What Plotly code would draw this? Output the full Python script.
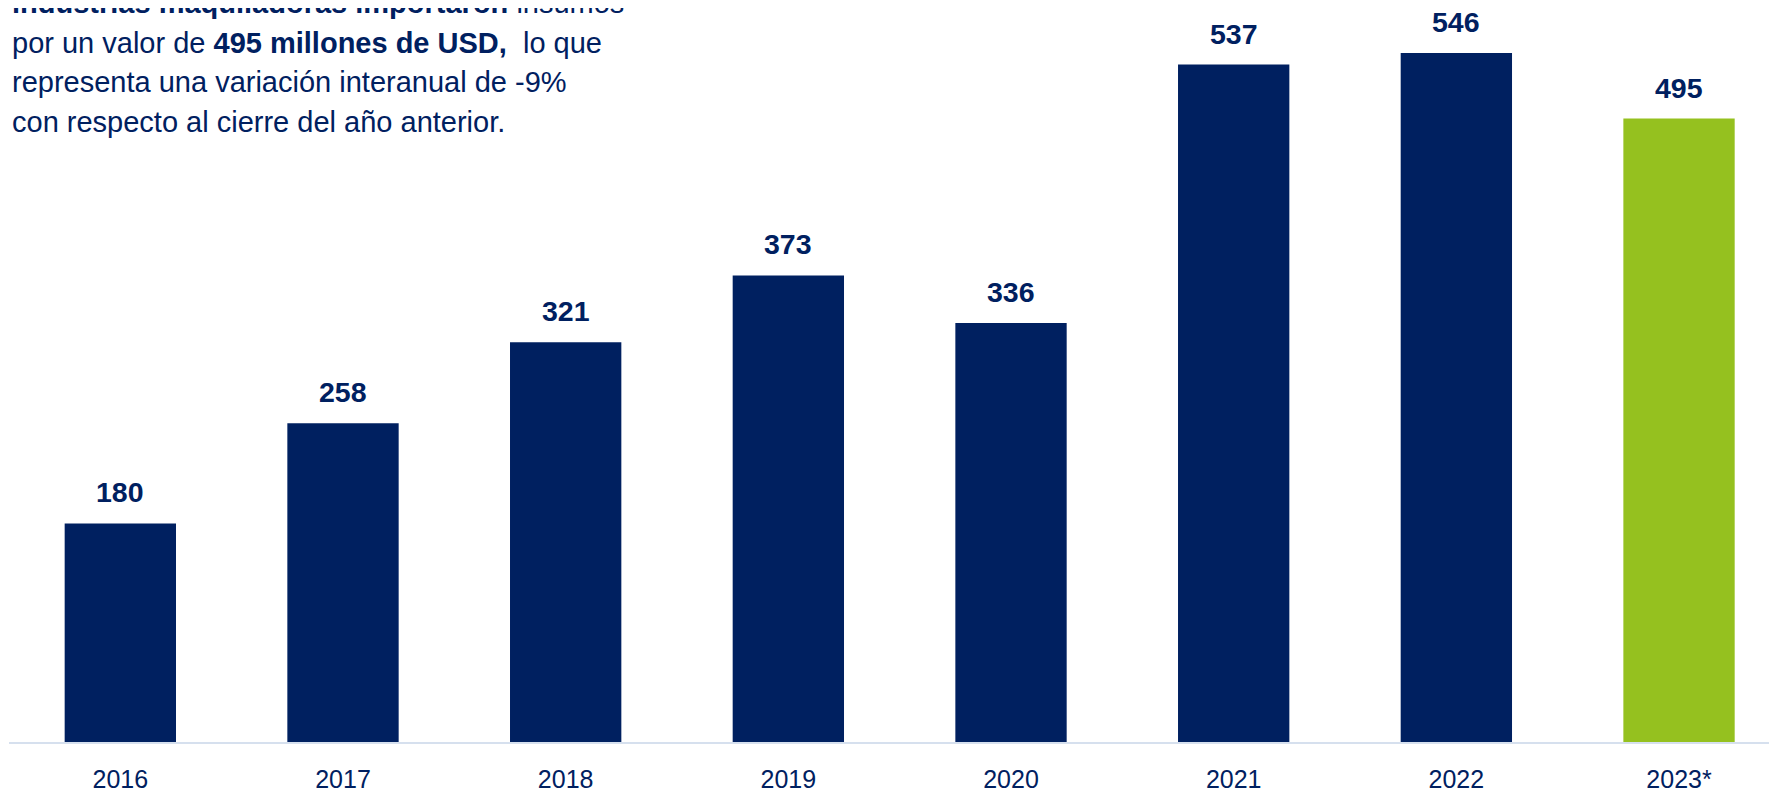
import plotly.graph_objects as go

years = ["2016", "2017", "2018", "2019", "2020", "2021", "2022", "2023*"]
values = [180, 258, 321, 373, 336, 537, 546, 495]
bar_colors = ["#002060"] * 7 + ["#95C11F"]

text_lines = [
    "<b>industrias maquiladoras importaron</b> insumos",
    "por un valor de <b>495 millones de USD,</b> &nbsp;lo que",
    "representa una variación interanual de -9%",
    "con respecto al cierre del año anterior.",
]

NAVY = "#002060"
FONT = "Liberation Sans"

fig = go.Figure()
fig.add_trace(go.Bar(
    x=years, y=values,
    marker=dict(color=bar_colors, line=dict(width=0)),
    hoverinfo="skip",
))

annotations = []
for i, v in enumerate(values):
    annotations.append(dict(
        x=i, y=v, xref="x", yref="y", text=f"<b>{v}</b>",
        showarrow=False, yanchor="bottom", yshift=13,
        font=dict(family=FONT, size=28.5, color=NAVY),
    ))

H = 734.0
for i, line in enumerate(text_lines):
    annotations.append(dict(
        x=0.0, xref="paper", xanchor="left", xshift=1,
        y=1 - (i * 39.5 - 5) / H, yref="paper", yanchor="middle",
        text=line, showarrow=False, align="left",
        font=dict(family=FONT, size=29, color=NAVY),
    ))

fig.update_layout(
    width=1769, height=784, autosize=False,
    margin=dict(l=1, r=0, t=0, b=50),
    paper_bgcolor="white", plot_bgcolor="white",
    bargap=0.5, showlegend=False,
    annotations=annotations,
    xaxis=dict(
        range=[-0.5, 7.44], showgrid=False, zeroline=False, automargin=False,
        showline=True, linecolor="#D6E0EE", linewidth=2,
        ticks="outside", ticklen=14, tickcolor="rgba(0,0,0,0)",
        tickfont=dict(family=FONT, size=25, color=NAVY),
        fixedrange=True,
    ),
    yaxis=dict(
        range=[10, 581], visible=False, showgrid=False, zeroline=False,
        automargin=False, fixedrange=True,
    ),
)

fig.write_html("out.html", config={"displayModeBar": False})
